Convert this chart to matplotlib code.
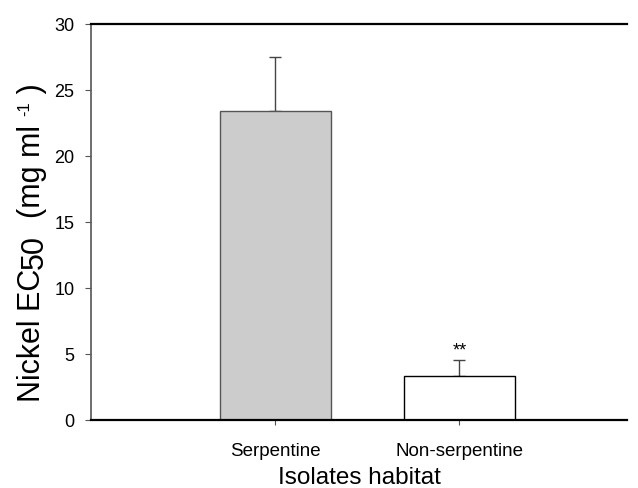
import numpy as np
import matplotlib
matplotlib.use('Agg')
import matplotlib.pyplot as plt
from matplotlib.transforms import IdentityTransform

plt.rcParams['font.family'] = ['Liberation Sans', 'DejaVu Sans']

habitats = ['Serpentine', 'Non-serpentine']
ec50 = [23.4, 3.35]
err = [4.1, 1.2]
bar_colors = ['#cccccc', 'white']
edge_colors = ['#555555', 'black']
marks = ['', '**']

fig = plt.figure(figsize=(6.38, 4.88), dpi=100)
ax = fig.add_axes([0.1426, 0.1393, 0.8404, 0.8115])

pos = np.arange(1, len(habitats) + 1)
ax.bar(pos, ec50, width=0.6, color=bar_colors, edgecolor=edge_colors,
       linewidth=1.0, zorder=2)
ax.errorbar(pos, ec50, yerr=[np.zeros(len(err)), err], fmt='none',
            ecolor='#444444', elinewidth=1.0, capsize=4.6, capthick=1.0, zorder=1)
for p, v, e, m in zip(pos, ec50, err, marks):
    if m:
        ax.text(p, v + e + 0.05, m, ha='center', va='bottom', fontsize=13)

ax.set_xlim(0, 2.91)
ax.set_ylim(0, 30)
ax.set_yticks(range(0, 31, 5))
ax.set_xticks(pos)
ax.set_xticklabels(habitats, fontsize=13.5)
ax.tick_params(axis='y', labelsize=13, direction='out', length=4.3, color='#555555', pad=7.5)
ax.tick_params(axis='x', direction='out', length=3.6, color='#555555', pad=13)

ax.spines['right'].set_visible(False)
ax.spines['left'].set_color('#555555')
ax.spines['left'].set_linewidth(1.2)
ax.spines['bottom'].set_linewidth(1.6)
ax.spines['top'].set_linewidth(1.6)

ax.set_xlabel('Isolates habitat', fontsize=17.5, labelpad=5)

# y label with full-size lowered "50" and small superscript, built from pieces
renderer = fig.canvas.get_renderer()
ylab_parts = [('Nickel EC', 22, 40), ('50', 22, 43), ('  (mg ml ', 22, 40),
              ('-1', 12, 29), (' )', 22, 40)]
ycur = 488 - 402
for s, fs, xb in ylab_parts:
    t = fig.text(xb, ycur, s, fontsize=fs, rotation=90, rotation_mode='anchor',
                 ha='left', va='baseline', transform=IdentityTransform())
    ycur += t.get_window_extent(renderer).height

plt.savefig('out.png', dpi=100)
